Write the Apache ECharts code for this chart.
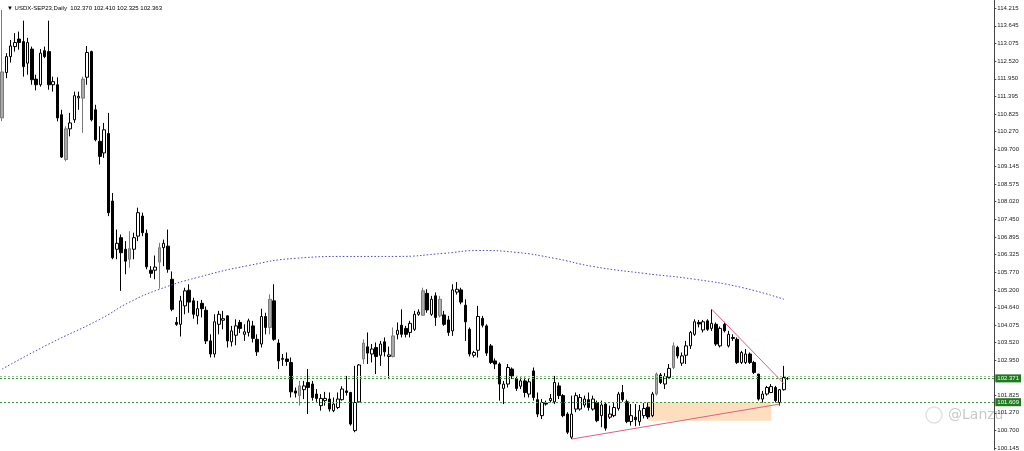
<!DOCTYPE html>
<html><head><meta charset="utf-8">
<script src="https://cdn.jsdelivr.net/npm/echarts@6/dist/echarts.min.js"></script>
<style>html,body{margin:0;padding:0;background:#fff;overflow:hidden}#c{width:1024px;height:451px}</style>
</head><body><div id="c"></div>
<script>
const opens = [110.70,112.15,112.66,112.98,113.22,113.14,112.45,112.90,111.94,111.76,
112.85,112.82,111.76,111.76,110.80,109.37,110.35,110.64,111.34,111.33,
112.00,112.82,110.96,109.95,109.58,110.20,108.04,106.50,106.87,106.50,
106.18,106.50,106.92,107.56,107.01,105.83,105.83,106.09,106.55,106.60,
105.54,104.16,104.10,104.69,105.19,104.85,104.37,104.77,104.55,103.57,
103.15,104.10,104.23,104.37,103.54,103.75,104.16,103.78,103.84,104.05,
103.62,103.47,104.35,104.00,104.85,103.50,102.98,102.99,102.88,101.97,
101.82,102.01,102.24,102.19,101.87,101.50,101.66,101.71,101.34,101.44,
101.69,101.97,101.92,100.70,101.62,102.99,103.38,103.15,103.36,103.11,
103.54,103.07,103.07,103.78,104.07,103.97,103.84,103.94,104.42,104.39,
105.09,104.42,105.01,104.37,104.40,104.24,103.89,105.13,105.20,104.71,
103.94,103.11,103.27,104.29,104.05,103.41,102.93,102.83,102.05,102.19,
102.67,102.37,102.12,102.29,101.87,102.61,101.69,101.18,101.58,101.66,
101.62,102.13,101.82,101.23,100.49,101.39,101.39,101.52,101.69,101.39,
101.60,101.18,101.55,101.13,101.18,101.41,101.92,101.62,100.99,101.13,
100.99,101.18,101.45,101.18,101.87,102.48,102.19,102.40,102.72,103.36,
102.86,103.11,103.41,103.78,104.16,103.92,104.21,103.97,104.10,103.41,
104.10,103.41,103.68,103.62,102.88,102.88,103.15,102.88,102.51,101.71,
101.87,101.92,102.08,101.60,102.01,102.370];
const closes = [112.17,112.66,113.00,113.11,113.11,112.34,113.11,111.92,111.76,112.77,
112.66,111.76,111.86,110.70,109.45,110.35,110.54,111.41,111.39,111.94,
112.79,110.64,110.00,109.47,110.32,107.67,106.23,106.69,106.39,106.12,
106.52,106.87,107.67,107.03,105.94,105.73,105.93,106.55,106.69,105.86,
104.58,104.10,104.85,105.17,104.81,104.42,104.60,104.60,103.57,103.15,
104.18,104.42,104.28,103.57,103.89,104.05,103.97,103.86,104.21,103.65,
103.22,104.35,104.00,104.90,103.62,102.93,103.01,102.91,101.94,101.90,
102.13,102.13,102.08,101.76,101.73,101.73,101.73,101.39,101.55,101.71,
102.03,101.92,100.91,101.60,102.80,103.50,103.18,103.31,103.07,103.47,
103.22,103.12,103.73,103.91,103.78,103.78,104.13,104.42,104.49,105.17,
104.56,104.90,104.32,104.90,104.10,103.84,105.20,105.22,104.81,104.18,
103.15,103.20,104.35,104.07,103.18,102.88,102.83,102.19,102.19,102.72,
102.45,102.05,102.29,101.92,102.26,101.76,101.23,101.60,101.55,101.73,
102.24,101.82,101.18,100.65,101.23,101.82,101.76,101.71,101.44,101.71,
101.02,101.52,100.78,101.23,101.44,101.87,101.69,100.99,101.18,101.05,
101.34,101.41,101.14,101.87,102.51,102.24,102.43,102.69,103.41,103.09,
103.09,103.41,103.84,104.18,104.11,104.18,103.94,104.13,103.47,103.97,
103.89,103.78,103.65,102.88,103.20,103.15,102.88,102.56,101.71,101.87,
102.08,102.11,101.66,102.01,102.40,102.363];
const lows = [110.60,111.97,112.47,112.82,112.88,112.02,112.08,111.76,111.58,111.70,
112.61,111.60,111.54,110.59,109.42,109.31,110.11,110.54,110.96,110.22,
111.76,110.59,109.95,109.21,109.42,107.56,106.18,106.18,105.17,105.70,
105.91,106.18,106.76,106.92,105.86,105.59,105.54,105.24,105.96,105.75,
104.52,104.05,103.71,104.42,104.47,104.28,104.10,104.32,103.47,103.04,
103.04,103.78,103.94,103.36,103.39,103.43,103.82,103.57,103.71,103.52,
103.09,103.36,103.78,103.78,103.57,102.67,102.77,102.77,101.76,101.76,
101.50,101.71,101.23,101.66,101.62,101.34,101.50,101.31,101.29,101.39,
101.66,101.82,100.86,100.65,101.60,102.83,102.83,102.88,102.51,102.77,
103.07,102.37,103.04,103.62,103.68,103.68,103.68,103.89,104.37,104.37,
104.47,104.37,104.05,104.32,104.05,103.73,103.73,105.05,104.74,103.57,
103.07,103.04,103.04,104.00,103.09,102.83,102.67,101.66,101.55,102.08,
102.35,101.97,102.03,101.76,101.76,101.66,101.13,101.07,101.50,101.60,
101.55,101.71,101.13,100.59,100.43,101.29,101.34,101.44,101.34,101.34,
100.97,100.81,100.70,101.07,101.13,101.34,101.62,100.94,100.86,100.84,
100.86,101.09,101.07,101.13,101.82,102.19,102.03,102.35,102.67,103.01,
102.77,102.83,103.31,103.73,104.00,103.84,103.89,103.89,103.41,103.36,
103.84,103.36,103.57,102.83,102.83,102.83,102.83,102.51,101.66,101.60,
101.82,101.90,101.60,101.50,101.98,102.325];
const highs = [114.15,112.77,113.19,113.41,113.46,113.81,113.26,112.98,112.08,112.90,
112.98,113.81,112.02,112.00,110.96,110.43,110.86,111.54,111.54,112.02,
113.00,112.85,111.12,110.43,110.54,110.86,108.30,107.13,106.97,106.76,
107.08,107.03,107.83,107.67,107.13,105.96,106.30,106.71,106.81,107.13,
105.79,104.33,105.01,105.27,105.38,104.95,104.85,104.88,104.67,103.78,
104.42,104.53,104.53,104.39,104.05,104.26,104.24,104.10,104.28,104.21,
103.78,104.60,104.47,105.06,105.38,103.62,103.15,103.20,103.04,102.08,
102.29,102.29,102.67,102.29,102.03,101.87,101.94,101.92,101.76,101.92,
102.12,102.45,101.94,102.77,102.83,103.62,103.84,103.47,103.52,103.57,
103.68,103.39,104.00,104.16,104.58,104.05,104.21,104.53,104.58,105.27,
105.22,105.01,105.12,105.01,104.53,104.37,105.38,105.45,105.27,104.90,
104.00,103.25,104.69,104.37,104.10,103.47,103.01,102.88,102.29,102.83,
102.72,102.45,102.40,102.40,102.35,102.72,101.92,101.71,101.66,101.87,
102.45,102.24,101.87,101.29,101.82,101.92,101.87,101.82,101.92,101.82,
101.66,101.66,101.60,101.50,101.60,101.94,102.16,101.69,101.55,101.55,
101.52,101.58,101.60,101.94,102.56,102.54,102.54,102.83,103.52,103.41,
103.20,103.57,103.89,104.26,104.24,104.24,104.26,104.58,104.16,104.03,
104.18,103.89,103.78,103.68,103.25,103.31,103.20,102.93,102.51,101.97,
102.13,102.19,102.13,102.03,102.77,102.410];
const grayBars = [0,15,19,30,37,63,70,85,92,99,103,154,158];
const maIndex = [0,11,23,30,37,46,58,69,81,93,104,112,121,130,139,151,163,174,184];
const maValue = [102.67,103.47,104.26,104.81,105.22,105.60,105.98,106.21,106.27,106.27,106.37,106.46,106.40,106.21,105.95,105.73,105.54,105.28,104.90];
const yTicks = [114.215,113.645,113.075,112.520,111.950,111.395,110.825,110.270,109.700,109.145,108.575,108.020,107.450,106.895,106.325,105.770,105.200,104.640,104.075,103.520,102.950,101.825,101.270,100.700,100.145];
const priceLabels = [102.371, 101.609];
const hLines = [102.44, 102.371, 101.609];
const zoneFrom = [152, 101.609];
const zoneTo = [181, 101.02];
const resistLine = [[167, 104.58], [184, 102.20]];
const supportLine = [[134, 100.43], [183, 101.55]];
const slotCount = 234;
const categories = [];
for (let i = 0; i < slotCount; i++) categories.push(String(i));

const candleData = opens.map((o, i) => {
  const v = [o, closes[i], lows[i], highs[i]];
  if (grayBars.indexOf(i) >= 0) {
    return { value: v, itemStyle: { color: '#aaaaaa', color0: '#aaaaaa', borderColor: '#7a7a7a', borderColor0: '#7a7a7a' } };
  }
  return v;
});
const maData = maIndex.map((x, i) => [x, maValue[i]]);

const chart = echarts.init(document.getElementById('c'), null, { renderer: 'canvas' });
const yMin = 100.085, yMax = 114.470;
chart.setOption({
  animation: false,
  backgroundColor: '#ffffff',
  title: {
    text: '\u25BC USDX-SEP23,Daily  102.370 102.410 102.325 102.363',
    left: 2, top: 0,
    textStyle: { fontSize: 6, fontWeight: 'normal', color: '#000', fontFamily: 'Liberation Sans' }
  },
  grid: { left: 0, right: 24, top: 0, bottom: 0 },
  xAxis: {
    type: 'category', data: categories, boundaryGap: true,
    axisLine: { show: false }, axisTick: { show: false }, axisLabel: { show: false }, splitLine: { show: false }
  },
  yAxis: [{
    type: 'value', position: 'right', min: yMin, max: yMax, scale: true,
    axisLine: { show: true, lineStyle: { color: '#444', width: 1 } },
    axisTick: { show: true, length: 2, inside: false, customValues: yTicks, lineStyle: { color: '#444' } },
    axisLabel: { show: true, customValues: yTicks, margin: 3, fontSize: 6, color: '#222', fontFamily: 'Liberation Sans',
      formatter: v => v.toFixed(3) },
    splitLine: { show: false }
  }, {
    type: 'value', position: 'right', min: yMin, max: yMax, scale: true,
    axisLine: { show: false }, axisTick: { show: false }, splitLine: { show: false },
    axisLabel: { show: true, customValues: priceLabels, margin: 1, fontSize: 6, color: '#ffffff', fontFamily: 'Liberation Sans',
      backgroundColor: '#1d7a1d', padding: [1, 2, 1, 2], formatter: v => v.toFixed(3) }
  }],
  series: [{
    type: 'candlestick', name: 'USDX', data: candleData, barWidth: 3,
    itemStyle: { color: '#ffffff', color0: '#000000', borderColor: '#000000', borderColor0: '#000000', borderWidth: 1 },
    markArea: {
      silent: true,
      itemStyle: { color: '#fddfbf' },
      data: [[{ coord: zoneFrom }, { coord: zoneTo }]]
    },
    markLine: {
      silent: true, symbol: ['none', 'none'], label: { show: false },
      data: [
        ...hLines.map((v, i) => ({ yAxis: v, lineStyle: { color: i === 0 ? '#8fc98f' : '#3a9a3a', type: [2, 2], width: 1 } })),
        [{ coord: resistLine[0], lineStyle: { color: '#e0607e', type: 'solid', width: 1 } }, { coord: resistLine[1] }],
        [{ coord: supportLine[0], lineStyle: { color: '#e0607e', type: 'solid', width: 1 } }, { coord: supportLine[1] }]
      ]
    }
  }, {
    type: 'line', name: 'MA', data: maData, showSymbol: false, symbol: 'none', smooth: true, connectNulls: true,
    lineStyle: { color: '#4848cc', width: 1, type: [1.5, 2] }
  }],
  graphic: [{
    type: 'circle', shape: { cx: 934, cy: 415, r: 8 }, z: 0,
    style: { fill: 'none', stroke: '#e2e2e2', lineWidth: 1.5 }
  }, {
    type: 'text', left: 948, top: 408, z: 0,
    style: { text: '@Lanzu', fontSize: 14, fill: '#c8c8c8', fontFamily: 'DejaVu Sans' }
  }]
});
</script>
</body></html>
